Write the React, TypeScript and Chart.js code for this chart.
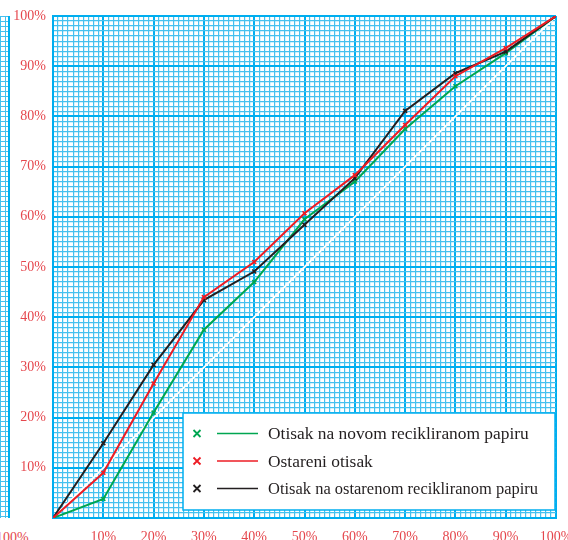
import React, { useEffect, useRef } from "react";
import { Chart, registerables } from "chart.js";

Chart.register(...registerables);

const xValues = [0, 10, 20, 30, 40, 50, 60, 70, 80, 90, 100];
const greenValues = [0, 3.8, 21, 37.5, 47, 59.5, 67, 77.5, 86, 92.6, 100];
const redValues = [0, 9, 26.8, 44, 51, 60.7, 68.3, 78.3, 88, 93.6, 100];
const blackValues = [0, 14.9, 30.5, 43.4, 49.1, 58.4, 67.7, 81.1, 88.6, 92.9, 100];
const diagonalValues = [0, 10, 20, 30, 40, 50, 60, 70, 80, 90, 100];

const seriesLabels = [
  "Otisak na novom recikliranom papiru",
  "Ostareni otisak",
  "Otisak na ostarenom recikliranom papiru",
];
const seriesColors = ["#00A651", "#ED1C24", "#231F20"];

const FONT = '"Liberation Serif", "Times New Roman", serif';
const MAJOR = "#00AEEF";
const MINOR = "#45C1EF";
const TICK_RED = "#E5474D";

const toPoints = (ys: number[]) => xValues.map((x, i) => ({ x, y: ys[i] }));

const legendPlugin = {
  id: "customLegend",
  afterDatasetsDraw(chart: any) {
    const { ctx, chartArea } = chart;
    const bx = chartArea.left + 130;
    const by = chartArea.top + 397;
    const bw = chartArea.right - 1 - bx;
    const bh = 97;
    ctx.save();
    ctx.fillStyle = "#FFFFFF";
    ctx.fillRect(bx, by, bw, bh);
    ctx.strokeStyle = MAJOR;
    ctx.lineWidth = 1.5;
    ctx.strokeRect(bx, by, bw, bh);
    const items = chart.data.datasets.filter((d: any) => d.showInLegend);
    items.forEach((d: any, i: number) => {
      const cy = by + 20.5 + i * 27.5;
      const col = d.borderColor;
      const mx = bx + 14;
      const s = 3.5;
      ctx.strokeStyle = col;
      ctx.lineWidth = 1.8;
      ctx.beginPath();
      ctx.moveTo(mx - s, cy - s);
      ctx.lineTo(mx + s, cy + s);
      ctx.moveTo(mx + s, cy - s);
      ctx.lineTo(mx - s, cy + s);
      ctx.stroke();
      ctx.lineWidth = 1.6;
      ctx.beginPath();
      ctx.moveTo(bx + 34, cy);
      ctx.lineTo(bx + 75, cy);
      ctx.stroke();
      ctx.fillStyle = "#231F20";
      ctx.font = `17.4px ${FONT}`;
      ctx.textBaseline = "middle";
      ctx.textAlign = "left";
      ctx.fillText(d.label, bx + 85, cy + 1, 270);
    });
    ctx.restore();
  },
};

const gridColor = (c: any) => (c.tick && Math.round(c.tick.value) % 10 === 0 ? MAJOR : MINOR);
const gridWidth = (c: any) => (c.tick && Math.round(c.tick.value) % 10 === 0 ? 2 : 1.2);
const tickLabel = (v: any) => {
  const n = Math.round(Number(v));
  return n % 10 === 0 && n > 0 ? `${n}%` : "";
};

export default function App() {
  const canvasRef = useRef<HTMLCanvasElement | null>(null);

  useEffect(() => {
    document.body.style.margin = "0";
    const canvas = canvasRef.current;
    if (!canvas) return;
    const mk = (label: string, ys: number[], color: string, order: number) => ({
      label,
      data: toPoints(ys),
      borderColor: color,
      backgroundColor: color,
      borderWidth: 2,
      pointStyle: "crossRot",
      pointRadius: 2.8,
      pointBorderWidth: 1.6,
      tension: 0,
      order,
      showInLegend: true,
    });
    const chart = new Chart(canvas, {
      type: "line",
      data: {
        datasets: [
          mk(seriesLabels[0], greenValues, seriesColors[0], 2),
          mk(seriesLabels[1], redValues, seriesColors[1], 0),
          mk(seriesLabels[2], blackValues, seriesColors[2], 1),
          {
            label: "diagonal",
            data: toPoints(diagonalValues),
            borderColor: "#FFFFFF",
            borderWidth: 1.8,
            pointRadius: 0,
            order: 3,
            showInLegend: false,
          } as any,
        ],
      },
      options: {
        animation: false,
        responsive: false,
        maintainAspectRatio: false,
        layout: { padding: { top: 16, right: 12, left: 0, bottom: 0 } },
        plugins: { legend: { display: false }, tooltip: { enabled: false } },
        scales: {
          x: {
            type: "linear",
            min: 0,
            max: 100,
            afterFit: (s: any) => {
              s.height = 22;
              s.paddingLeft = 0;
              s.paddingRight = 0;
            },
            grid: { color: gridColor, lineWidth: gridWidth, drawTicks: false },
            border: { display: true, color: MAJOR, width: 2 },
            ticks: {
              stepSize: 1,
              maxTicksLimit: 200,
              autoSkip: false,
              maxRotation: 0,
              minRotation: 0,
              padding: 11,
              color: TICK_RED,
              font: { family: FONT, size: 14 },
              callback: tickLabel,
            },
          },
          y: {
            type: "linear",
            min: 0,
            max: 100,
            afterFit: (s: any) => {
              s.width = 53;
              s.paddingTop = 0;
              s.paddingBottom = 0;
            },
            grid: { color: gridColor, lineWidth: gridWidth, drawTicks: false },
            border: { display: true, color: MAJOR, width: 2 },
            ticks: {
              stepSize: 1,
              maxTicksLimit: 200,
              autoSkip: false,
              padding: 7,
              color: TICK_RED,
              font: { family: FONT, size: 14 },
              callback: tickLabel,
            },
          },
        },
      },
      plugins: [legendPlugin],
    } as any);
    return () => chart.destroy();
  }, []);

  const stripStyle: React.CSSProperties = {
    position: "absolute",
    left: 0,
    top: 16,
    width: 8,
    height: 502,
    backgroundImage: `repeating-linear-gradient(to right, ${MINOR} 0 1px, transparent 1px 5px), repeating-linear-gradient(to bottom, ${MINOR} 0 1px, transparent 1px 5px)`,
    borderRight: `2px solid ${MAJOR}`,
  };

  return (
    <div style={{ position: "absolute", left: 0, top: 0, width: 568, height: 540, overflow: "hidden", background: "#fff" }}>
      <div style={stripStyle} />
      <span
        style={{
          position: "absolute",
          left: -4,
          top: 531,
          fontFamily: FONT,
          fontSize: 14,
          lineHeight: "14px",
          color: TICK_RED,
        }}
      >
        100%
      </span>
      <canvas ref={canvasRef} width={568} height={540} style={{ position: "absolute", left: 0, top: 0, display: "block" }} />
    </div>
  );
}
